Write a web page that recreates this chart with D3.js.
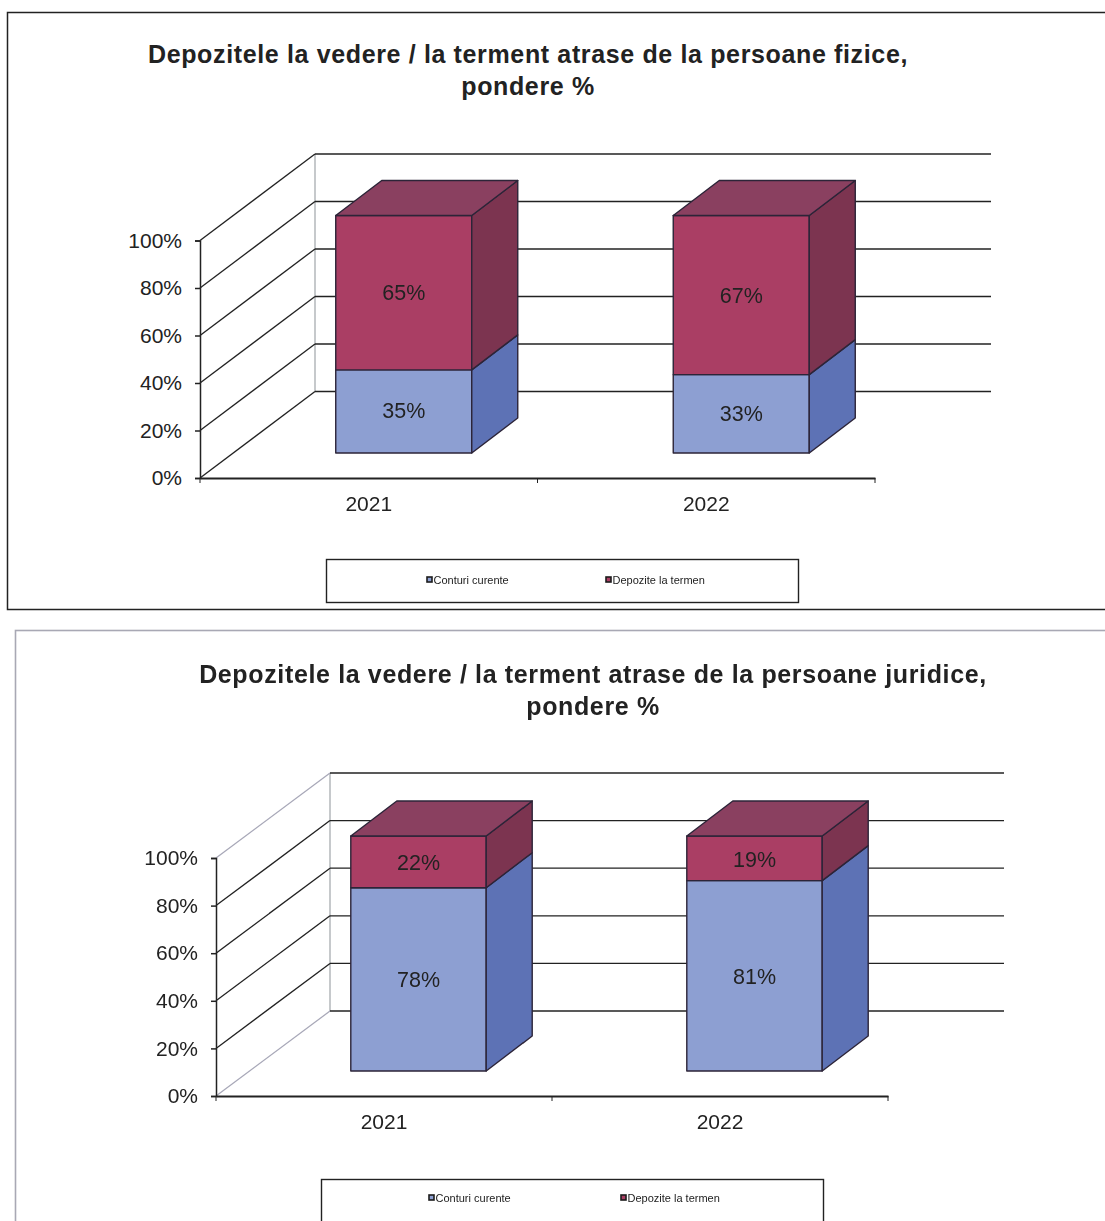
<!DOCTYPE html>
<html><head><meta charset="utf-8">
<script src="https://cdn.jsdelivr.net/npm/d3@7"></script>
<style>html,body{margin:0;padding:0;background:#fff}svg{display:block;filter:blur(0.45px)}text{font-family:"Liberation Sans",Arial,sans-serif;fill:#222}</style>
</head><body><svg id="c" width="1105" height="1221"></svg>
<script>
const years = ["2021","2022"];
const seriesNames = ["Conturi curente","Depozite la termen"];
const fiziceCurente = [35,33];
const fiziceTermen = [65,67];
const juridiceCurente = [78,81];
const juridiceTermen = [22,19];
const yTicks = [0,20,40,60,80,100];
const titleFizice = ["Depozitele la vedere / la terment atrase de la persoane fizice,","pondere %"];
const titleJuridice = ["Depozitele la vedere / la terment atrase de la persoane juridice,","pondere %"];

const blue={front:"#8d9fd2",side:"#5d72b5"};
const red={front:"#aa3e64",side:"#7c3450",top:"#8a4060"};
const svg=d3.select("#c");

function chart(o){
  const g=svg.append("g");
  g.append("rect").attr("x",o.frame[0]).attr("y",o.frame[1]).attr("width",o.frame[2]).attr("height",o.frame[3])
    .attr("fill","#fff").attr("stroke",o.frameColor).attr("stroke-width",o.frameW);
  o.title.forEach((t,i)=>g.append("text").attr("x",o.titleX).attr("y",o.titleY+i*32).attr("text-anchor","middle")
    .attr("font-size",25).attr("letter-spacing",o.titleLs).attr("font-weight","bold").text(t));
  const y=d3.scaleLinear().domain([0,100]).range([o.y0,o.y100]);
  const x=d3.scaleBand().domain(years).range([o.x0,o.x1]);
  const dx=o.depthX,dy=o.depthY;
  g.append("line").attr("x1",o.x0+dx).attr("x2",o.x0+dx).attr("y1",y(0)-dy).attr("y2",y(100)-dy).attr("stroke","#a8acb0").attr("stroke-width",1.3);
  yTicks.forEach(t=>{
    const c=(t===0&&o.lightFloor)||(t===100&&o.lightTop)?"#a8a8b8":"#222";
    g.append("line").attr("x1",o.x0).attr("y1",y(t)).attr("x2",o.x0+dx).attr("y2",y(t)-dy).attr("stroke",c).attr("stroke-width",1.3);
    g.append("line").attr("x1",o.x0+dx).attr("y1",y(t)-dy).attr("x2",o.xEnd).attr("y2",y(t)-dy).attr("stroke","#222").attr("stroke-width",1.3);
  });
  const ay=g.append("g").attr("transform",`translate(${o.x0},0)`)
    .call(d3.axisLeft(y).tickValues(yTicks).tickFormat(d=>d+"%").tickSize(5).tickPadding(13));
  const ax=g.append("g").attr("transform",`translate(0,${o.y0})`)
    .call(d3.axisBottom(x).tickValues([]).tickSize(0));
  [o.x0,(o.x0+o.x1)/2,o.x1].forEach(v=>g.append("line").attr("x1",v).attr("x2",v).attr("y1",o.y0).attr("y2",o.y0+5).attr("stroke","#222"));
  ay.selectAll("path,line").attr("stroke","#222").attr("stroke-width",1.5);
  ay.selectAll("text").attr("font-size",21).attr("fill","#222");
  ax.select("path").attr("stroke","#222").attr("stroke-width",1.8);
  years.forEach(c=>g.append("text").attr("x",x(c)+x.bandwidth()/2).attr("y",o.y0+33).attr("text-anchor","middle").attr("font-size",21).text(c));
  const h=v=>(y(0)-y(v))*o.barScale;
  const bw=x.bandwidth()*o.barFrac, bdx=46, bdy=35;
  years.forEach((c,i)=>{
    const l=x(c)+x.bandwidth()/2+o.barShift-bw/2, r=l+bw, b=o.y0-25;
    let base=0;
    [[o.a[i],blue],[o.b[i],red]].forEach(([v,col],k)=>{
      const yb=b-h(base), yt=b-h(base+v);
      const poly=(pts,f)=>g.append("polygon").attr("points",pts.map(q=>q.join(",")).join(" ")).attr("fill",f).attr("stroke","#2c2438").attr("stroke-width",1.4).attr("stroke-linejoin","round");
      poly([[l,yb],[r,yb],[r,yt],[l,yt]],col.front);
      poly([[r,yb],[r+bdx,yb-bdy],[r+bdx,yt-bdy],[r,yt]],col.side);
      if(k===1) poly([[l,yt],[r,yt],[r+bdx,yt-bdy],[l+bdx,yt-bdy]],col.top);
      g.append("text").attr("x",(l+r)/2).attr("y",(yb+yt)/2+o.labelDy[k]).attr("text-anchor","middle").attr("font-size",21.5).attr("fill",k?"#3a2438":"#2f3454").text(v+"%");
      base+=v;
    });
  });
  g.append("rect").attr("x",o.leg[0]).attr("y",o.leg[1]).attr("width",o.leg[2]).attr("height",o.leg[3]).attr("fill","#fff").attr("stroke","#222").attr("stroke-width",1.4);
  seriesNames.forEach((s,i)=>{
    const lx=o.legX[i], ly=o.leg[1]+o.legDy;
    g.append("rect").attr("x",lx).attr("y",ly-3.5).attr("width",5).attr("height",5).attr("fill",[blue,red][i].front).attr("stroke","#1c1c1c").attr("stroke-width",1.6);
    g.append("text").attr("x",lx+6.5).attr("y",ly+3).attr("font-size",11).attr("fill","#333").text(s);
  });
}
chart({title:titleFizice,a:fiziceCurente,b:fiziceTermen,frame:[7.5,12.5,1110,597],frameColor:"#222",frameW:1.5,
  titleX:528,titleY:63,titleLs:0.64,
  x0:200,x1:875,xEnd:991,y0:478,y100:240.5,depthX:115,depthY:86.5,
  barFrac:0.403,barShift:35,barScale:1,labelDy:[7,7.5],
  leg:[326.5,559.5,472,43],legDy:21,legX:[427,606],lightFloor:false,lightTop:false});
chart({title:titleJuridice,a:juridiceCurente,b:juridiceTermen,frame:[15.5,630.5,1110,700],frameColor:"#a8a8b4",frameW:1.6,
  titleX:593,titleY:683,titleLs:0.64,
  x0:216,x1:888,xEnd:1004,y0:1096,y100:858,depthX:114,depthY:85,
  barFrac:0.403,barShift:34.5,barScale:235/238,labelDy:[8,8.5],
  leg:[321.5,1179.5,502,60],legDy:19,legX:[429,621],lightFloor:true,lightTop:true});
</script></body></html>
